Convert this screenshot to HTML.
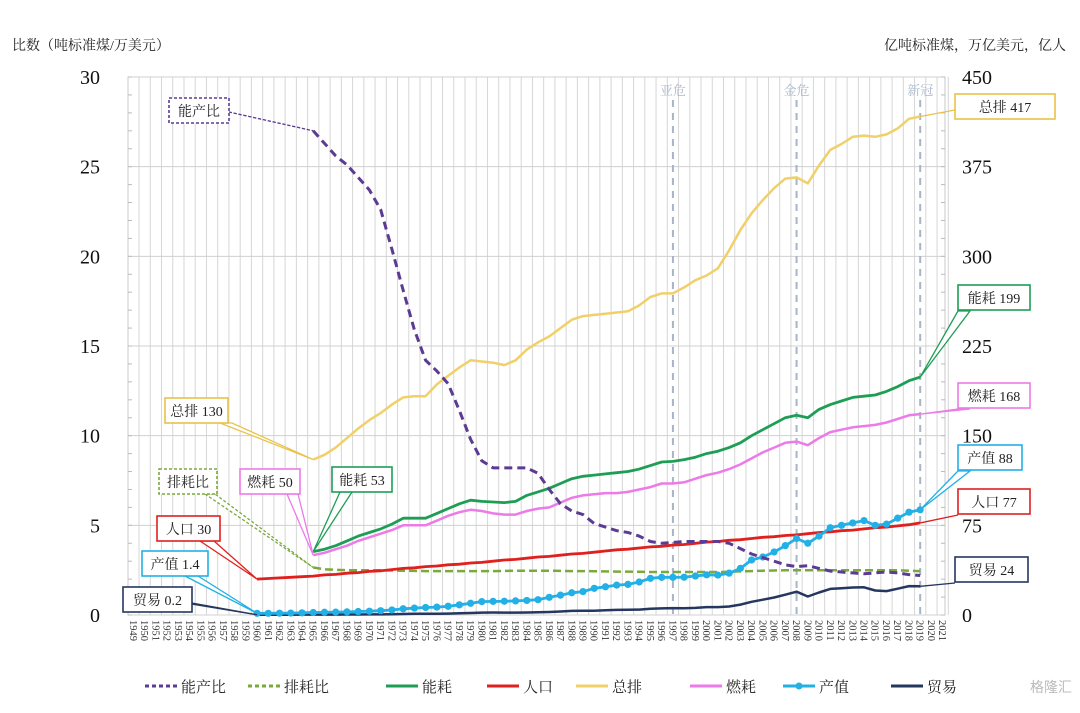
<!DOCTYPE html>
<html><head><meta charset="utf-8">
<style>
html,body{margin:0;padding:0;background:#fff;}
body{width:1080px;height:708px;overflow:hidden;font-family:"Liberation Serif","Noto Serif CJK SC",serif;}
</style></head>
<body>
<svg id="chart" width="1080" height="708" viewBox="0 0 1080 708" xmlns="http://www.w3.org/2000/svg" font-family="Liberation Serif, Noto Serif CJK SC, serif">
<text x="12" y="50" font-size="14" fill="#222">比数（吨标准煤/万美元）</text>
<text x="1066" y="50" font-size="14" fill="#222" text-anchor="end">亿吨标准煤，万亿美元，亿人</text>
<g id="grid"></g>
<g id="crisis"></g>
<g id="axes"></g>
<g id="series"></g>
<g id="callouts"></g>
<g id="legend"></g>
<text x="1030" y="692" font-size="14" fill="#bbb" font-family="Liberation Sans, Noto Sans CJK SC, sans-serif">格隆汇</text>
</svg>
<script>
const years=[];for(let y=1949;y<=2021;y++)years.push(y);
const leftTicks=[0,5,10,15,20,25,30];
const rightTicks=[0,75,150,225,300,375,450];
const crisisYears=[1997,2008,2019];
const crisisLabels=["亚危","金危","新冠"];
// ratio series (left axis), 1965-2019
const nengchanbi=[27.0,26.3,25.6,25.1,24.4,23.7,22.6,20.4,18.1,15.9,14.2,13.6,12.9,11.4,9.8,8.6,8.2,8.2,8.2,8.2,7.9,7.0,6.2,5.8,5.6,5.1,4.9,4.7,4.6,4.4,4.1,4.0,4.05,4.1,4.1,4.1,4.1,4.0,3.7,3.4,3.2,3.0,2.8,2.7,2.75,2.6,2.45,2.4,2.35,2.3,2.35,2.4,2.35,2.25,2.2];
const paihaobi=[2.65,2.55,2.52,2.5,2.5,2.5,2.5,2.48,2.47,2.46,2.45,2.45,2.45,2.45,2.45,2.45,2.45,2.46,2.47,2.47,2.47,2.47,2.46,2.45,2.45,2.44,2.43,2.42,2.42,2.41,2.4,2.4,2.4,2.4,2.4,2.4,2.4,2.41,2.43,2.45,2.47,2.48,2.5,2.5,2.5,2.5,2.5,2.5,2.5,2.5,2.5,2.5,2.5,2.47,2.45];
// right axis series, 1965-2019
const nenghao=[53,55,58,62,66,69,72,76,81,81,81,85,89,93,96,95,94.5,94,95,100,103,106,110,114,116,117,118,119,120,122,125,128,128.5,130,132,135,137,140,144,150,155,160,165,167,165,172,176,179,182,183,184,187,191,196,199];
const ranhao=[50,52,55,58,62,65,68,71,75,75,75,79,83,86,88,87,85,84,84,87,89,90,94,98,100,101,102,102,103,105,107,110,110,111,114,117,119,122,126,131,136,140,144,145,142,148,153,155,157,158,159,161,164,167,168];
const zongpai=[130,134,140,148,156,163,169,176,182,183,183,193,200,207,213,212,211,209,213,222,228,233,240,247,250,251,252,253,254,259,266,269,269,274,280,284,290,305,322,336,347,357,365,366,361,376,389,394,400,401,400,402,407,415,417];
// right axis series, 1960-2019
const renkou=[30,30.5,31,31.5,32,32.5,33.5,34,35,35.5,36.5,37,38,39,39.5,40.5,41,42,42.5,43.5,44,45,46,46.5,47.5,48.5,49,50,51,51.5,52.5,53.5,54.5,55,56,57,57.5,58.5,59,60,61,61.5,62.5,63,64,65,65.5,66.5,67,68,69,69.5,70.5,71,72,73,73.5,74.5,75.5,77];
const chanzhi=[1.4,1.4,1.5,1.6,1.8,2.1,2.3,2.4,2.6,2.9,3.2,3.6,4.2,5.2,5.8,6.3,6.6,7.3,8.5,9.8,11.2,11.4,11.5,11.8,12.2,12.8,14.8,16.6,18.6,19.6,22.3,23.6,25,25.6,27.6,30.7,31.5,31.5,31.6,32.6,33.6,33.4,35,39,46,48.5,52.7,58,64,60,66,73,75,77,79,75,76,81,86,88];
const maoyi=[0.2,0.2,0.2,0.2,0.3,0.3,0.3,0.3,0.4,0.4,0.5,0.5,0.6,0.8,1,1,1.1,1.2,1.4,1.7,2,2.1,2,2,2.1,2.3,2.5,2.9,3.4,3.6,3.6,4,4.3,4.4,4.5,5.3,5.5,5.8,5.7,5.9,6.6,6.6,7.1,8.7,11,12.8,14.6,17,19.5,15.5,18.8,21.8,22.3,23,23.2,20.5,20,22,24.2,24];
const legendNames=["能产比","排耗比","能耗","人口","总排","燃耗","产值","贸易"];

const NS="http://www.w3.org/2000/svg";
const X0=133.4, STEP=11.24, YB=615, YT=77, PL=128, PR=945;
const xs=y=>X0+(y-1949)*STEP;
const yl=v=>YB-(v/30)*(YB-YT);
const yr=v=>YB-(v/450)*(YB-YT);
function mk(tag,attrs,parent){const e=document.createElementNS(NS,tag);for(const k in attrs)e.setAttribute(k,attrs[k]);parent.appendChild(e);return e;}
const grid=document.getElementById('grid'),axes=document.getElementById('axes'),ser=document.getElementById('series'),cal=document.getElementById('callouts'),leg=document.getElementById('legend'),cri=document.getElementById('crisis');

const bg=mk('rect',{x:PL,y:YT,width:PR-PL,height:YB-YT,fill:'#fff',stroke:'#c8c8c8','stroke-width':1},grid);


years.forEach(y=>{const l=mk('line',{x1:xs(y)+STEP/2,x2:xs(y)+STEP/2,y1:YT,y2:YB,stroke:'#d6d6d6','stroke-width':1},grid);

});
leftTicks.forEach((t,i)=>{const g=mk('line',{x1:PL,x2:PR,y1:yl(t),y2:yl(t),stroke:'#d0d0d0','stroke-width':1},grid);


const lt=mk('text',{x:100,y:yl(t)+7,'font-size':20,'text-anchor':'end',fill:'#111'},axes);lt.textContent=t;


const rt=mk('text',{x:962,y:yr(rightTicks[i])+7,'font-size':20,fill:'#111'},axes);rt.textContent=rightTicks[i];

});
for(let v=0;v<=30;v++){mk('line',{x1:PL,x2:PL+4,y1:yl(v),y2:yl(v),stroke:'#bbb'},grid);mk('line',{x1:PR-4,x2:PR,y1:yl(v),y2:yl(v),stroke:'#bbb'},grid);}
years.forEach(y=>{const t=mk('text',{x:0,y:0,'font-size':10.5,fill:'#333',transform:`translate(${xs(y)-3.5},${620}) rotate(90)`},axes);t.textContent=y;

});
crisisYears.forEach((y,i)=>{const l=mk('line',{x1:xs(y),x2:xs(y),y1:100,y2:YB,stroke:'#a8b4c8','stroke-width':2,'stroke-dasharray':'7,6'},cri);


const t=mk('text',{x:xs(y),y:95,'font-size':13,fill:'#a9b7cc','text-anchor':'middle'},cri);t.textContent=crisisLabels[i];

});

function line(data,start,yf,color,w,dash,name,markers){
 const pts=data.map((v,i)=>xs(start+i).toFixed(1)+','+yf(v).toFixed(1)).join(' ');
 const p=mk('polyline',{points:pts,fill:'none',stroke:color,'stroke-width':w,'stroke-linejoin':'round'},ser);
 if(dash)p.setAttribute('stroke-dasharray',dash);
 
 
 if(markers)data.forEach((v,i)=>{const c=mk('circle',{cx:xs(start+i),cy:yf(v),r:3.6,fill:color},ser);
 
 });
}
line(maoyi,1960,yr,'#24375e',2.5,null,'trade-line');
line(paihaobi,1965,yl,'#7aaa3c',2.5,'8,4','emission-energy-ratio-line');
line(renkou,1960,yr,'#e0201e',2.8,null,'population-line');
line(chanzhi,1960,yr,'#22b0e6',2.8,null,'gdp-line',true);
line(ranhao,1965,yr,'#ec7ae8',2.5,null,'fuel-consumption-line');
line(nenghao,1965,yr,'#1e9e55',2.8,null,'energy-consumption-line');
line(zongpai,1965,yr,'#f1d06a',2.5,null,'total-emission-line');
line(nengchanbi,1965,yl,'#5b3c92',3,'8,5','energy-output-ratio-line');

function callout(text,bx,by,bw,color,px,py,name,dash,ax1,ax2,ay){
 const bh=25;
 const poly=mk('polygon',{points:`${ax1},${ay} ${px},${py} ${ax2},${ay}`,fill:'#fff',stroke:color,'stroke-width':1.3},cal);
 if(dash)poly.setAttribute('stroke-dasharray','3,2');
 const r=mk('rect',{x:bx,y:by,width:bw,height:bh,fill:'#fff',stroke:color,'stroke-width':1.6},cal);
 if(dash)r.setAttribute('stroke-dasharray','3,2');
 
 
 const t=mk('text',{x:bx+bw/2,y:by+18,'font-size':14,'text-anchor':'middle',fill:'#222'},cal);t.textContent=text;
 
 
}
const p65=xs(1965),p60=xs(1960),p19=xs(2019);
callout('能产比',169,98,60,'#5b3c92',p65,yl(nengchanbi[0]),'callout-energy-output-ratio',true,229,229,112);
callout('总排 130',165,398,63,'#e8c24a',p65,yr(zongpai[0]),'callout-emission-1965',false,220,232,423);
callout('排耗比',159,469,58,'#7aaa3c',p65,yl(paihaobi[0]),'callout-emission-energy-ratio',true,205,215,494);
callout('燃耗 50',240,469,60,'#ec7ae8',p65,yr(ranhao[0]),'callout-fuel-1965',false,287,298,494);
callout('能耗 53',332,467,60,'#1e9e55',p65,yr(nenghao[0]),'callout-energy-1965',false,340,352,492);
callout('人口 30',157,516,63,'#e0201e',p60,yr(renkou[0]),'callout-population-1960',false,200,214,541);
callout('产值 1.4',142,551,66,'#22b0e6',p60,yr(chanzhi[0]),'callout-gdp-1960',false,185,198,576);
callout('贸易 0.2',123,587,69,'#24375e',p60,yr(maoyi[0]),'callout-trade-1960',false,185,192,603);
callout('总排 417',955,94,100,'#e8c24a',p19,yr(zongpai[54]),'callout-emission-2019',false,955,955,110);
callout('能耗 199',958,285,72,'#1e9e55',p19,yr(nenghao[54]),'callout-energy-2019',false,958,970,311);
callout('燃耗 168',958,383,72,'#ec7ae8',p19,yr(ranhao[54]),'callout-fuel-2019',false,958,970,409);
callout('产值 88',958,445,64,'#22b0e6',p19,yr(chanzhi[59]),'callout-gdp-2019',false,958,970,471);
callout('人口 77',958,489,72,'#e0201e',p19,yr(renkou[59]),'callout-population-2019',false,958,958,515);
callout('贸易 24',955,557,73,'#24375e',p19,yr(maoyi[59]),'callout-trade-2019',false,955,955,583);

const legColors=['#5b3c92','#7aaa3c','#1e9e55','#e0201e','#f1d06a','#ec7ae8','#22b0e6','#24375e'];
const legX=[140,243,381,482,571,685,778,886];
legendNames.forEach((n,i)=>{
 const g=mk('g',{},leg);
 
 
 const x=legX[i];
 const l=mk('line',{x1:x+5,x2:x+37,y1:686,y2:686,stroke:legColors[i],'stroke-width':3},g);
 if(i<2)l.setAttribute('stroke-dasharray','4,3');
 if(i==6)mk('circle',{cx:x+21,cy:686,r:3.5,fill:legColors[i]},g);
 const t=mk('text',{x:x+41,y:692,'font-size':15,fill:'#222'},g);t.textContent=n;
});
</script>
</body></html>
